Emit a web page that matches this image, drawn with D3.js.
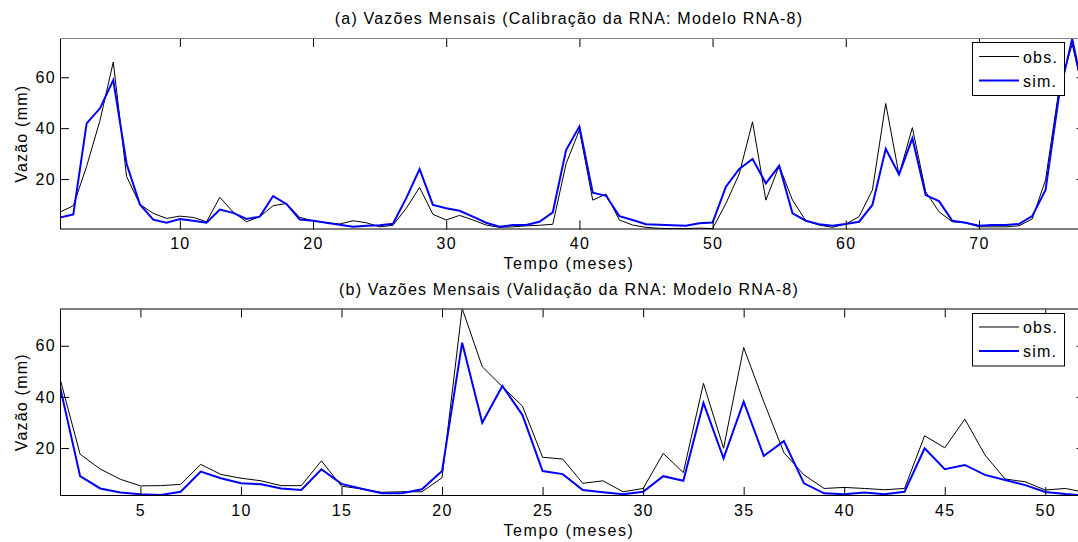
<!DOCTYPE html>
<html><head><meta charset="utf-8">
<script src="https://cdn.jsdelivr.net/npm/d3@7"></script>
<style>
html,body{margin:0;padding:0;background:#fff;overflow:hidden}
text{font-family:"Liberation Sans",Arial,sans-serif;fill:#000}
</style></head>
<body><svg id="c" width="1078" height="542"></svg>
<script>
// ---- data ----
const obsCal = [7,9.5,25,43,66,21,10,6.5,4.5,5.4,4.9,3.2,12.8,7,3.2,5.2,9.5,10.4,4.9,3.6,2.8,2.3,3.6,2.8,1.2,1.8,8.5,16.7,6.1,3.9,5.7,3.9,1.9,1,1.2,1.6,1.8,2.2,26,39.3,11.7,14.1,3.9,1.9,1,0.6,0.5,0.5,0.7,0.5,10.4,22,42.5,11.7,25.2,11.7,3.6,1.9,1,2.3,5.2,15.7,49.7,21.6,40.2,15,7.1,3.2,2.8,1.2,1.2,1.2,1.6,4.3,19.6,55,73,50];
const simCal = [4.9,6.1,41.9,47.8,58.9,26,10,4,2.8,4.3,3.6,2.8,8,6.7,4.3,5.2,13.3,10.2,4.1,3.6,2.8,2,1.2,1.6,1.8,2.4,12.5,23.9,9.8,8.5,7.5,5.2,2.8,1.2,1.9,1.9,3.2,6.9,31.4,40.6,14.6,13.4,5.4,3.9,2.2,2,1.8,1.6,2.6,2.9,17,24,27.9,18.3,25.2,6.5,3.6,2.2,1.6,2.3,3.2,9.8,31.9,21.8,36,13.7,11.3,3.6,2.8,1.6,1.9,1.9,2.3,5.4,15.7,52.4,75.2,50];
const obsVal = [47.2,17.6,11.8,7.8,5.2,5.3,5.8,13.6,9.7,8.2,7.2,5.3,5.3,15,5.1,4,2.7,2.9,2.9,8.4,74.6,51.8,44,36.4,16.4,15.7,6.2,7.2,2.9,4.2,17.9,10.4,45.3,19.9,59.3,38.1,18.2,9.5,4.2,4.6,4.2,3.7,4.2,24.8,20.1,31.3,17.3,7.9,6.8,3.6,4.2,2.6];
const simVal = [44,9,4.2,2.6,1.9,1.6,2.9,10.8,8.2,6.2,5.8,4.2,3.6,11.7,6,4.1,2.3,2.3,3.9,11,61.2,29.9,44.3,32.9,11,9.8,3.6,2.7,1.9,2.9,9,7.2,37.7,16,38.1,16.9,22.7,6.2,2.3,1.9,2.6,1.9,2.9,19.9,11.7,13.4,9.5,7.5,5.5,2.8,2,1.5];
const xTicksCal = [10,20,30,40,50,60,70];
const xTicksVal = [5,10,15,20,25,30,35,40,45,50];
const yTicks = [20,40,60];
const titles = ["(a) Vazões Mensais (Calibração da RNA: Modelo RNA-8)",
                "(b) Vazões Mensais (Validação da RNA: Modelo RNA-8)"];
const legendLabels = ["obs.","sim."];
const xLabel = "Tempo (meses)";
const yLabel = "Vazão (mm)";

const svg = d3.select("#c");
const L = 60, R = 1085.5;
const LS = "1.3px";

function panel(cfg){
  const {top,bottom,yDom,obs,sim,xTicks,title,titleY,xlabY,legTop,legBottom,legY1,legY2,id} = cfg;
  const n = obs.length;
  const x = d3.scaleLinear().domain([1,n]).range([L,R]);
  const y = d3.scaleLinear().domain(yDom).range([bottom,top]);
  const g = svg.append("g");
  g.append("clipPath").attr("id",id).append("rect")
    .attr("x",L).attr("y",top).attr("width",R-L).attr("height",bottom-top);
  const line = d3.line().x((d,i)=>x(i+1)).y(d=>y(d));
  const lg = g.append("g").attr("clip-path",`url(#${id})`);
  lg.append("path").datum(obs).attr("d",line).attr("fill","none").attr("stroke","#000").attr("stroke-width",1);
  lg.append("path").datum(sim).attr("d",line).attr("fill","none").attr("stroke","#0000ff").attr("stroke-width",2);
  const tl = 9;
  const ax = g.append("g");
  ax.append("g").attr("transform",`translate(0,${bottom})`)
    .call(d3.axisBottom(x).tickValues(xTicks).tickSize(-tl).tickPadding(8.5).tickFormat(d3.format("d")));
  ax.append("g").attr("transform",`translate(0,${top})`)
    .call(d3.axisTop(x).tickValues(xTicks).tickSize(-tl).tickFormat(""));
  ax.append("g").attr("transform",`translate(${L},0)`)
    .call(d3.axisLeft(y).tickValues(yTicks).tickSize(-tl).tickPadding(4).tickFormat(d3.format("d")));
  ax.append("g").attr("transform",`translate(${R},0)`)
    .call(d3.axisRight(y).tickValues(yTicks).tickSize(-tl).tickFormat(""));
  ax.selectAll(".domain").remove();
  ax.selectAll(".tick line").attr("stroke","#000").attr("stroke-width",1);
  ax.selectAll(".tick text").style("font-size","16px").style("letter-spacing",LS).attr("fill","#000");
  g.append("rect").attr("x",L+0.5).attr("y",top+0.5).attr("width",R-L).attr("height",bottom-top-1)
    .attr("fill","none").attr("stroke","#000").attr("stroke-width",1);
  g.append("line").attr("x1",L).attr("x2",R).attr("y1",top+0.5).attr("y2",top+0.5).attr("stroke","#808080");
  g.append("text").attr("x",(L+1078)/2).attr("y",titleY).attr("text-anchor","middle")
    .style("font-size","16px").style("letter-spacing","1.2px").text(title);
  g.append("text").attr("x",(L+1078)/2).attr("y",xlabY).attr("text-anchor","middle")
    .style("font-size","16px").style("letter-spacing","1.6px").text(xLabel);
  g.append("text").attr("transform",`translate(27,${(top+bottom)/2}) rotate(-90)`).attr("text-anchor","middle")
    .style("font-size","16px").style("letter-spacing","1.2px").text(yLabel);
  const lx0 = 972.5, lx1 = 1064.5;
  const leg = g.append("g");
  leg.append("rect").attr("x",lx0).attr("y",legTop).attr("width",lx1-lx0).attr("height",legBottom-legTop)
    .attr("fill","#fff").attr("stroke","#000").attr("stroke-width",1);
  [[legY1,"#000",1],[legY2,"#0000ff",2]].forEach((s,k)=>{
    leg.append("line").attr("x1",979).attr("x2",1019).attr("y1",s[0]).attr("y2",s[0]).attr("stroke",s[1]).attr("stroke-width",s[2]);
    leg.append("text").attr("x",1023).attr("y",s[0]+6).style("font-size","16px").style("letter-spacing","1.2px").text(legendLabels[k]);
  });
}

panel({id:"c1",top:38,bottom:229.5,yDom:[0.15,75.45],obs:obsCal,sim:simCal,xTicks:xTicksCal,title:titles[0],
  titleY:24,xlabY:269,legTop:42.5,legBottom:95.5,legY1:56.5,legY2:80.5});
panel({id:"c2",top:308.5,bottom:496,yDom:[1.25,74.57],obs:obsVal,sim:simVal,xTicks:xTicksVal,title:titles[1],
  titleY:295,xlabY:536,legTop:313.5,legBottom:366,legY1:327,legY2:351});
</script></body></html>
